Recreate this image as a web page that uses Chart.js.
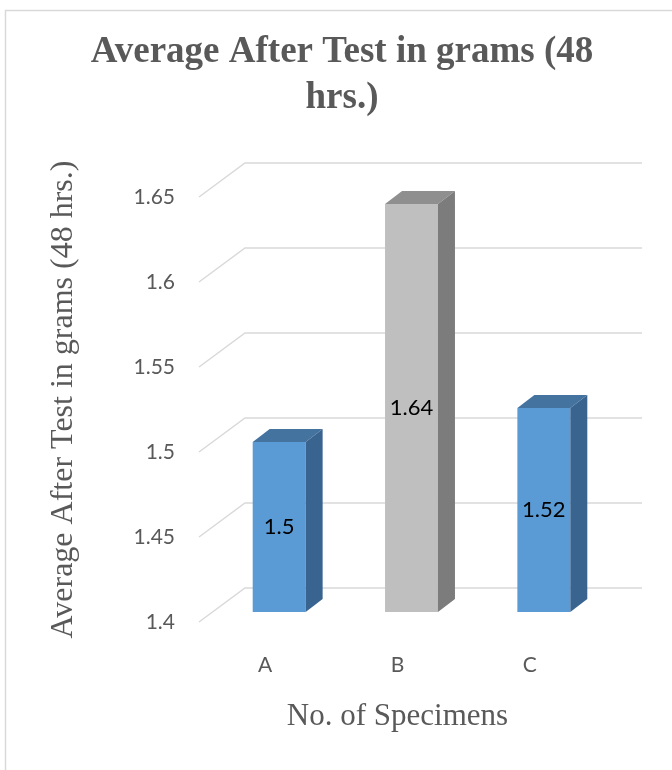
<!DOCTYPE html>
<html>
<head>
<meta charset="utf-8">
<script src="https://cdn.jsdelivr.net/npm/chart.js@4.4.1/dist/chart.umd.min.js"></script>
<style>
  html, body { margin: 0; padding: 0; background: #ffffff; }
  #wrap { position: relative; width: 672px; height: 770px; }
</style>
</head>
<body>
<div id="wrap"><canvas id="chart" width="672" height="770"></canvas></div>
<script>
// Chart data
const categories = ['A', 'B', 'C'];
const averages = [1.5, 1.64, 1.52];
const yTicks = [1.4, 1.45, 1.5, 1.55, 1.6, 1.65];

const titleLines = ['Average After Test in grams (48', 'hrs.)'];
const yTitle = 'Average After Test in grams (48 hrs.)';
const xTitle = 'No. of Specimens';

// Face colours for the 3D columns (front, top, side)
const frontColors = ['#5B9BD5', '#BFBFBF', '#5B9BD5'];
const topColors = ['#44739F', '#8F8F8F', '#44739F'];
const sideColors = ['#3A6490', '#7C7C7C', '#3A6490'];

const TEXT_GREY = '#595959';
const GRID_GREY = '#D9D9D9';
const SANS = 'Lato, "Open Sans", sans-serif';
const SERIF = '"Liberation Serif", "Times New Roman", serif';

// Perspective: the column plane sits 30% into the floor depth
const DEPTH = { frontDx: -14, frontDy: 10, backDx: 32, backDy: -24, barDx: 17, barDy: 13 };

const chartFrame = {
  id: 'chartFrame',
  beforeDraw(chart) {
    const { ctx } = chart;
    ctx.save();
    ctx.strokeStyle = GRID_GREY;
    ctx.lineWidth = 1.5;
    ctx.beginPath();
    ctx.moveTo(5.5, 770);
    ctx.lineTo(5.5, 10.5);
    ctx.lineTo(672, 10.5);
    ctx.stroke();
    ctx.restore();
  }
};

const perspectiveGrid = {
  id: 'perspectiveGrid',
  beforeDatasetsDraw(chart) {
    const { ctx, chartArea } = chart;
    const y = chart.scales.y;
    ctx.save();
    ctx.strokeStyle = GRID_GREY;
    ctx.lineWidth = 1.5;
    y.ticks.forEach(t => {
      const py = y.getPixelForValue(t.value);
      ctx.beginPath();
      ctx.moveTo(chartArea.left + DEPTH.frontDx, py + DEPTH.frontDy);
      ctx.lineTo(chartArea.left + DEPTH.backDx, py + DEPTH.backDy);
      ctx.lineTo(chartArea.right + DEPTH.backDx, py + DEPTH.backDy);
      ctx.stroke();
    });
    ctx.restore();
  }
};

const columnFaces = {
  id: 'columnFaces',
  afterDatasetsDraw(chart) {
    const { ctx } = chart;
    const meta = chart.getDatasetMeta(0);
    ctx.save();
    meta.data.forEach((bar, i) => {
      const { x, y, base, width } = bar.getProps(['x', 'y', 'base', 'width'], true);
      const l = x - width / 2, r = x + width / 2;
      const dx = DEPTH.barDx, dy = DEPTH.barDy;
      // top face
      ctx.fillStyle = topColors[i];
      ctx.beginPath();
      ctx.moveTo(l, y);
      ctx.lineTo(r, y);
      ctx.lineTo(r + dx, y - dy);
      ctx.lineTo(l + dx, y - dy);
      ctx.closePath();
      ctx.fill();
      // side face
      ctx.fillStyle = sideColors[i];
      ctx.beginPath();
      ctx.moveTo(r, y);
      ctx.lineTo(r + dx, y - dy);
      ctx.lineTo(r + dx, base - dy);
      ctx.lineTo(r, base);
      ctx.closePath();
      ctx.fill();
      // value label centred on the front face
      ctx.fillStyle = '#000000';
      ctx.font = '22px ' + SANS;
      ctx.textAlign = 'center';
      ctx.textBaseline = 'middle';
      ctx.fillText(String(averages[i]), x, (y + base) / 2);
    });
    ctx.restore();
  },
  afterDraw(chart) {
    const { ctx, chartArea } = chart;
    ctx.save();
    ctx.fillStyle = TEXT_GREY;
    ctx.font = '31px ' + SERIF;
    ctx.textAlign = 'center';
    ctx.textBaseline = 'alphabetic';
    ctx.fillText(xTitle, (chartArea.left + chartArea.right) / 2 + DEPTH.frontDx, 725);
    ctx.restore();
  }
};

new Chart(document.getElementById('chart'), {
  type: 'bar',
  data: {
    labels: categories,
    datasets: [{
      data: averages,
      base: yTicks[0],
      backgroundColor: frontColors,
      borderWidth: 0,
      barPercentage: 0.4,
      categoryPercentage: 1.0
    }]
  },
  options: {
    responsive: false,
    animation: false,
    layout: { padding: { left: 12, right: 0, top: 0, bottom: 0 } },
    plugins: {
      legend: { display: false },
      tooltip: { enabled: false },
      title: {
        display: true,
        text: titleLines,
        color: TEXT_GREY,
        font: { family: SERIF, size: 37, weight: 'bold', lineHeight: 46 / 37 },
        padding: { top: 29, bottom: 66 }
      }
    },
    scales: {
      x: {
        grid: { display: false, drawTicks: false },
        border: { display: false },
        ticks: { color: TEXT_GREY, font: { family: SANS, size: 21 }, padding: 41, labelOffset: DEPTH.frontDx },
        afterFit(scale) { scale.height = 158; }
      },
      y: {
        min: 1.4,
        max: 1.65,
        grid: { display: false, drawTicks: false },
        border: { display: false },
        afterBuildTicks(scale) { scale.ticks = yTicks.map(v => ({ value: v })); },
        ticks: {
          color: TEXT_GREY,
          font: { family: SANS, size: 21 },
          padding: 38,
          labelOffset: DEPTH.frontDy,
          callback: v => String(v)
        },
        title: {
          display: true,
          text: yTitle,
          color: TEXT_GREY,
          font: { family: SERIF, size: 32 },
          padding: { top: 32, bottom: 0 }
        },
        afterFit(scale) { scale.width = 213 - 12; }
      },
      spacer: {
        position: 'right',
        display: true,
        grid: { display: false, drawTicks: false },
        border: { display: false },
        ticks: { display: false },
        afterFit(scale) { scale.width = 62; }
      }
    }
  },
  plugins: [chartFrame, perspectiveGrid, columnFaces]
});
</script>
</body>
</html>
